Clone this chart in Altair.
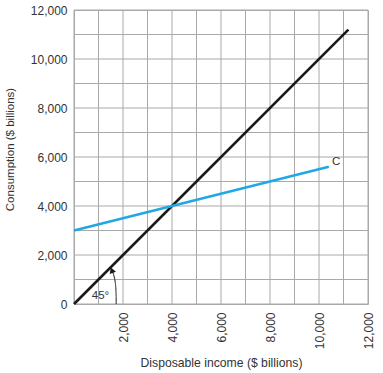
import altair as alt
import pandas as pd

# 45-degree line (C = Y)
line45_x = [0, 11200]
line45_y = [0, 11200]

# Consumption function C
c_x = [0, 10400]
c_y = [3000, 5600]

# arc annotation for the 45° angle
arc_x = [1720, 1722, 1710, 1680, 1630, 1560]
arc_y = [0, 300, 600, 900, 1150, 1330]
arrow_x = [1545]
arrow_y = [1380]

labels_text = ["45°", "C"]
labels_x = [1080, 10700]
labels_y = [330, 5780]

grid_values = list(range(0, 13000, 1000))
label_values = list(range(0, 13000, 2000))

GRID = "#a9a9a9"
FONT = "Liberation Sans"

xscale = alt.Scale(domain=[0, 12000], nice=False)
yscale = alt.Scale(domain=[0, 12000], nice=False)

xaxis = alt.Axis(
    values=label_values,
    labelExpr="datum.value > 0 ? format(datum.value, ',') : ''",
    labelAngle=270,
    labelPadding=8,
    ticks=False,
    domain=False,
    grid=False,
    labelFont=FONT,
    labelFontSize=12,
    labelColor="#333333",
    title="Disposable income ($ billions)",
    titleFont=FONT,
    titleFontSize=12.2,
    titleFontWeight="normal",
    titleColor="#333333",
    titlePadding=8,
    labelFlush=False,
    labelOverlap=False,
)
yaxis = alt.Axis(
    values=label_values,
    labelExpr="format(datum.value, ',')",
    labelPadding=7,
    ticks=False,
    domain=False,
    grid=False,
    labelFont=FONT,
    labelFontSize=12,
    labelColor="#333333",
    title="Consumption ($ billions)",
    titleFont=FONT,
    titleFontSize=11.5,
    titleFontWeight="normal",
    titleColor="#333333",
    titlePadding=15,
    titleY=139,
    labelFlush=False,
    labelOverlap=False,
)

df45 = pd.DataFrame({"x": line45_x, "y": line45_y})
dfc = pd.DataFrame({"x": c_x, "y": c_y})
dfarc = pd.DataFrame({"x": arc_x, "y": arc_y, "o": list(range(len(arc_x)))})
dfarrow = pd.DataFrame({"x": arrow_x, "y": arrow_y})
dflab = pd.DataFrame({"t": labels_text, "x": labels_x, "y": labels_y})
dfgrid = pd.DataFrame({"v": grid_values})

vgrid = alt.Chart(dfgrid).mark_rule(color=GRID, strokeWidth=1).encode(
    x=alt.X("v:Q", scale=xscale, axis=xaxis),
)
hgrid = alt.Chart(dfgrid).mark_rule(color=GRID, strokeWidth=1).encode(
    y=alt.Y("v:Q", scale=yscale, axis=yaxis),
)
base_line = alt.Chart(df45).mark_line(color="#1a1a1a", strokeWidth=2.6).encode(
    x=alt.X("x:Q", scale=xscale),
    y=alt.Y("y:Q", scale=yscale),
)
c_line = alt.Chart(dfc).mark_line(color="#22a7e6", strokeWidth=2.6).encode(
    x=alt.X("x:Q", scale=xscale),
    y=alt.Y("y:Q", scale=yscale),
)
arc = alt.Chart(dfarc).mark_line(color="#1a1a1a", strokeWidth=1, interpolate="monotone").encode(
    x=alt.X("x:Q", scale=xscale),
    y=alt.Y("y:Q", scale=yscale),
    order="o:Q",
)
arrow = alt.Chart(dfarrow).mark_point(
    shape="triangle-up", filled=True, color="#1a1a1a", size=45, angle=340, opacity=1
).encode(
    x=alt.X("x:Q", scale=xscale),
    y=alt.Y("y:Q", scale=yscale),
)
labs = alt.Chart(dflab).mark_text(font=FONT, fontSize=11.5, color="#333333").encode(
    x=alt.X("x:Q", scale=xscale),
    y=alt.Y("y:Q", scale=yscale),
    text="t:N",
)

chart = (
    alt.layer(vgrid, hgrid, base_line, c_line, arc, arrow, labs)
    .properties(
        width=294,
        height=294,
        autosize=alt.AutoSizeParams(type="none"),
        padding={"left": 74, "top": 10, "right": 15, "bottom": 69},
        background="white",
    )
    .configure_view(stroke=GRID, strokeWidth=1)
)

chart.save("out.html", embed_options={"renderer": "svg", "actions": False})
